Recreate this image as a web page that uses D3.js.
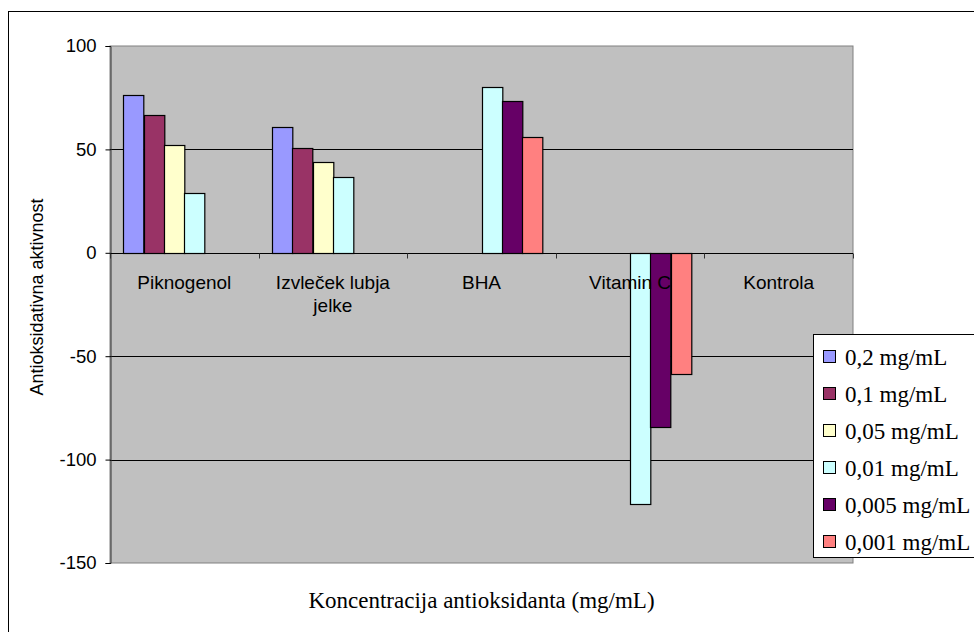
<!DOCTYPE html>
<html>
<head>
<meta charset="utf-8">
<script src="https://cdn.jsdelivr.net/npm/d3@7"></script>
<style>
  html, body { margin: 0; padding: 0; background: #fff; }
  svg { display: block; }
</style>
</head>
<body>
<svg id="chart" width="974" height="632"></svg>
<script>
// ---- Data ----
const categories = ["Piknogenol", "Izvleček lubja jelke", "BHA", "Vitamin C", "Kontrola"];
const categoryLines = [["Piknogenol"], ["Izvleček lubja", "jelke"], ["BHA"], ["Vitamin C"], ["Kontrola"]];
const seriesNames = ["0,2 mg/mL", "0,1 mg/mL", "0,05 mg/mL", "0,01 mg/mL", "0,005 mg/mL", "0,001 mg/mL"];
const s02   = [76.5, 60.7, null, null, null];
const s01   = [66.4, 50.8, null, null, null];
const s005  = [52.3, 44.1, null, null, null];
const s001  = [29.1, 36.7, 80.0, -121.6, null];
const s0005 = [null, null, 73.4, -84.1, null];
const s0001 = [null, null, 56.0, -58.6, null];
const seriesValues = [s02, s01, s005, s001, s0005, s0001];
const yTicks = [100, 50, 0, -50, -100, -150];
const seriesColors = ["#9999FF", "#993366", "#FFFFCC", "#CCFFFF", "#660066", "#FF8080"];
const yTitle = "Antioksidativna aktivnost";
const xTitle = "Koncentracija antioksidanta (mg/mL)";

// ---- Layout ----
const svg = d3.select("#chart");
const plot = { left: 110, right: 853, top: 46, bottom: 563 };

// outer chart border
svg.append("rect").attr("x", 8.5).attr("y", 11.5).attr("width", 1000).attr("height", 1000)
  .attr("fill", "#fff").attr("stroke", "#000").attr("stroke-width", 1);

const y = d3.scaleLinear().domain([-150, 100]).range([plot.bottom, plot.top]);
const x0 = d3.scaleBand().domain(categories).range([plot.left, plot.right]).padding(0);
const bw = x0.bandwidth();
const gap = bw * 0.18;
const x1 = d3.scaleBand().domain(d3.range(seriesNames.length)).range([gap / 2, bw - gap / 2]).padding(0);

// plot area
svg.append("rect").attr("x", plot.left).attr("y", plot.top)
  .attr("width", plot.right - plot.left).attr("height", plot.bottom - plot.top)
  .attr("fill", "#C0C0C0").attr("stroke", "#808080").attr("stroke-width", 1);

// gridlines
svg.append("g").selectAll("line").data(yTicks.filter(t => t !== 0 && t !== 100 && t !== -150)).join("line")
  .attr("x1", plot.left).attr("x2", plot.right)
  .attr("y1", d => Math.round(y(d)) + 0.5).attr("y2", d => Math.round(y(d)) + 0.5)
  .attr("stroke", "#000").attr("stroke-width", 1);

// y axis
const yAxis = d3.axisLeft(y).tickValues(yTicks).tickSize(5).tickPadding(9).tickFormat(d => String(d));
const gy = svg.append("g").attr("transform", `translate(${plot.left + 0.5},0)`).call(yAxis);
gy.select(".domain").attr("stroke", "#333");
gy.selectAll(".tick line").attr("stroke", "#000");
gy.selectAll(".tick text").attr("font-family", "Arial, 'Liberation Sans', sans-serif")
  .attr("font-size", 18.5).attr("fill", "#000");

// bars
const bars = [];
seriesValues.forEach((vals, si) => {
  vals.forEach((v, ci) => {
    if (v !== null) bars.push({ si, ci, v });
  });
});
svg.append("g").selectAll("rect").data(bars).join("rect")
  .attr("x", d => Math.round(x0(categories[d.ci]) + x1(d.si)) + 0.5)
  .attr("width", x1.bandwidth())
  .attr("y", d => Math.round(y(Math.max(0, d.v))) + 0.5)
  .attr("height", d => Math.abs(Math.round(y(d.v)) - Math.round(y(0))))
  .attr("fill", d => seriesColors[d.si])
  .attr("stroke", "#000").attr("stroke-width", 1.2);

// category axis (zero line) with tick marks at boundaries
const y0 = Math.round(y(0)) + 0.5;
svg.append("line").attr("x1", plot.left).attr("x2", plot.right).attr("y1", y0).attr("y2", y0)
  .attr("stroke", "#000").attr("stroke-width", 1.2);
const bounds = categories.map(c => x0(c)).concat([plot.right]);
svg.append("g").selectAll("line").data(bounds).join("line")
  .attr("x1", d => Math.round(d) + 0.5).attr("x2", d => Math.round(d) + 0.5)
  .attr("y1", y0).attr("y2", y0 + 5).attr("stroke", "#333");

// category labels (drawn over bars)
const cl = svg.append("g").attr("font-family", "Arial, 'Liberation Sans', sans-serif")
  .attr("font-size", 19).attr("fill", "#000").attr("text-anchor", "middle");
categoryLines.forEach((lines, i) => {
  const t = cl.append("text").attr("x", x0(categories[i]) + bw / 2).attr("y", 289);
  lines.forEach((ln, j) => {
    t.append("tspan").attr("x", x0(categories[i]) + bw / 2).attr("dy", j === 0 ? 0 : 23).text(ln);
  });
});

// y title
svg.append("text").attr("transform", `translate(43,297) rotate(-90)`)
  .attr("text-anchor", "middle").attr("font-family", "Arial, 'Liberation Sans', sans-serif")
  .attr("font-size", 18).attr("fill", "#000").text(yTitle);

// x title
svg.append("text").attr("x", (plot.left + plot.right) / 2).attr("y", 608)
  .attr("text-anchor", "middle").attr("font-family", "'Times New Roman', 'Liberation Serif', serif")
  .attr("font-size", 23).attr("fill", "#000").text(xTitle);

// legend
const lg = svg.append("g");
lg.append("rect").attr("x", 813.5).attr("y", 334.5).attr("width", 200).attr("height", 223)
  .attr("fill", "#fff").attr("stroke", "#000").attr("stroke-width", 1);
const ly = d3.scalePoint().domain(seriesNames).range([357, 542]);
const items = lg.selectAll("g.item").data(seriesNames).join("g").attr("class", "item")
  .attr("transform", d => `translate(0,${ly(d)})`);
items.append("rect").attr("x", 823.5).attr("y", -6.5).attr("width", 12).attr("height", 12)
  .attr("fill", (d, i) => seriesColors[i]).attr("stroke", "#000").attr("stroke-width", 1);
items.append("text").attr("x", 845).attr("y", 8)
  .attr("font-family", "'Times New Roman', 'Liberation Serif', serif")
  .attr("font-size", 23).attr("fill", "#000").text(d => d);
</script>
</body>
</html>
